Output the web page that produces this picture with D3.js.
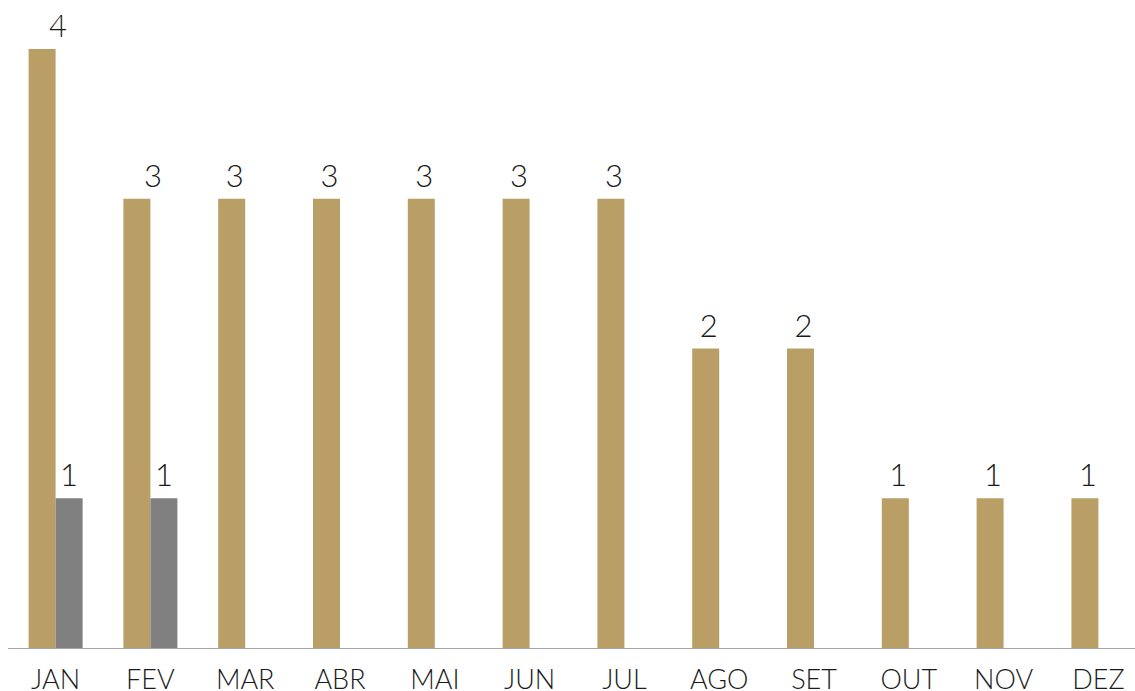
<!DOCTYPE html>
<html>
<head>
<meta charset="utf-8">
<script src="https://cdn.jsdelivr.net/npm/d3@7"></script>
<style>
  html, body { margin: 0; padding: 0; background: #fff; }
  svg { display: block; }
  text { font-family: "Lato", "Open Sans", sans-serif; font-weight: 300; fill: #1a1a1a; }
</style>
</head>
<body>
<svg id="chart" width="1135" height="691"></svg>
<script>
const months = ["JAN","FEV","MAR","ABR","MAI","JUN","JUL","AGO","SET","OUT","NOV","DEZ"];
const seriesA = [4,3,3,3,3,3,3,2,2,1,1,1];
const seriesB = [1,1,null,null,null,null,null,null,null,null,null,null];
const seriesKeys = ["A","B"];
const colors = { A: "#B99F66", B: "#808080" };

const W = 1135, H = 691;
const svg = d3.select("#chart");

const x = d3.scaleBand().domain(months).range([8.2, 1145.8]).padding(0);
const barW = 27;
const xSub = d3.scaleBand().domain(seriesKeys)
  .range([x.bandwidth() / 2 - barW, x.bandwidth() / 2 + barW]).padding(0);
const y = d3.scaleLinear().domain([0, 4]).range([648, 49]);

const rows = months.map((m, i) => ({ month: m, A: seriesA[i], B: seriesB[i] }));

const g = svg.append("g");
const groups = g.selectAll("g.grp").data(rows).join("g")
  .attr("class", "grp")
  .attr("transform", d => `translate(${x(d.month)},0)`);

groups.selectAll("rect").data(d => seriesKeys.filter(k => d[k] != null).map(k => ({ key: k, value: d[k] })))
  .join("rect")
  .attr("x", d => xSub(d.key))
  .attr("width", xSub.bandwidth())
  .attr("y", d => y(d.value))
  .attr("height", d => y(0) - y(d.value))
  .attr("fill", d => colors[d.key]);

// data labels
groups.each(function (d) {
  const paired = d.B != null;
  const grp = d3.select(this);
  seriesKeys.forEach(k => {
    if (d[k] == null) return;
    let cx = xSub(k) + xSub.bandwidth() / 2;
    if (k === "A") cx += paired ? 16 : 3;
    grp.append("text")
      .attr("x", cx)
      .attr("y", y(d[k]) - 12)
      .attr("text-anchor", "middle")
      .style("font-size", "31px")
      .text(d[k]);
  });
});

// x axis
const axis = svg.append("g")
  .attr("transform", `translate(0,${y(0)})`)
  .call(d3.axisBottom(x).tickSize(0).tickPadding(22));
axis.select(".domain").attr("d", `M8,0.5H1135`).attr("stroke", "#a6a6a6").attr("stroke-width", 1.2);
axis.selectAll(".tick text")
  .style("font-size", "27px")
  .style("font-family", "Lato, sans-serif")
  .style("font-weight", 300)
  .attr("fill", "#1a1a1a");
</script>
</body>
</html>
